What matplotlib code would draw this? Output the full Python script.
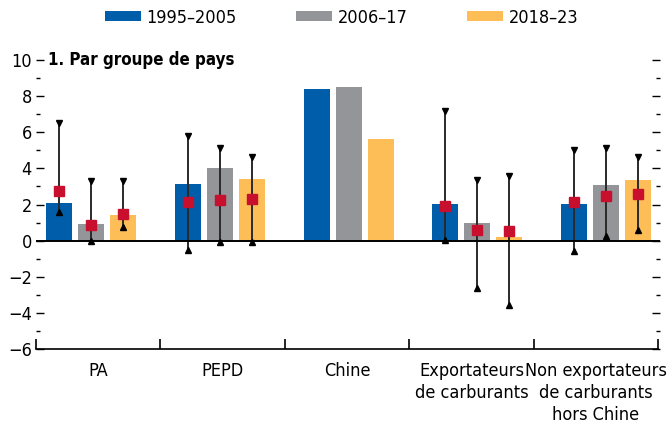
import numpy as np
import matplotlib
matplotlib.use("Agg")
import matplotlib.pyplot as plt
from matplotlib import font_manager
from matplotlib.ticker import MultipleLocator, FixedLocator

# narrow font if we have one, else condensed DejaVu, else Roboto a bit smaller
fonts = font_manager.fontManager.ttflist
names = {f.name for f in fonts}
fs = 14
if 'Liberation Sans Narrow' in names:
  plt.rcParams['font.family'] = ['Liberation Sans Narrow', 'DejaVu Sans']
elif any(f.name == 'DejaVu Sans' and f.stretch == 'condensed' for f in fonts):
  plt.rcParams['font.family'] = ['DejaVu Sans']
  plt.rcParams['font.stretch'] = 'condensed'
  fs = 13
else:
  plt.rcParams['font.family'] = ['Roboto', 'DejaVu Sans']
  fs = 12.5

#============================================================================
# data
#============================================================================

groups = ['PA', 'PEPD', 'Chine', 'Exportateurs\nde carburants',
          'Non exportateurs\nde carburants\nhors Chine']
periods = ['1995–2005', '2006–17', '2018–23']

# bar heights per period
bar_9505 = [2.10, 3.15, 8.40, 2.04, 2.04]
bar_0617 = [0.94, 4.03, 8.50, 0.99, 3.09]
bar_1823 = [1.44, 3.43, 5.64, 0.22, 3.37]

# red squares (median), nan where not shown
med_9505 = [2.72, 2.15, np.nan, 1.93, 2.15]
med_0617 = [0.88, 2.26, np.nan, 0.60, 2.45]
med_1823 = [1.49, 2.32, np.nan, 0.55, 2.60]

# whisker ends
hi_9505 = [6.50, 5.82, np.nan, 7.18, 4.99]
lo_9505 = [1.60, -0.50, np.nan, 0.05, -0.55]
hi_0617 = [3.30, 5.15, np.nan, 3.33, 5.12]
lo_0617 = [0.00, -0.05, np.nan, -2.60, 0.24]
hi_1823 = [3.30, 4.62, np.nan, 3.59, 4.62]
lo_1823 = [0.77, -0.05, np.nan, -3.54, 0.60]

colors = ['#005DAA', '#939598', '#FDBD57']
red = '#C8102E'

#============================================================================
# plot
#============================================================================

fig = plt.figure(figsize=(6.67, 4.26), dpi=100)
ax = fig.add_axes([36/667, 77/426, 624/667, 289/426])

x = np.arange(len(groups))
w = 0.202
off = 0.2485

bars = [bar_9505, bar_0617, bar_1823]
meds = [med_9505, med_0617, med_1823]
his = [hi_9505, hi_0617, hi_1823]
los = [lo_9505, lo_0617, lo_1823]

for k in range(3):
  xs = x + (k - 1) * off
  ax.bar(xs, bars[k], width=w, color=colors[k], label=periods[k], zorder=2)
  ax.vlines(xs, los[k], his[k], color='#2a2a2a', lw=1.4, zorder=3)
  ax.plot(xs, his[k], 'v', color='black', ms=4.5, zorder=4)
  ax.plot(xs, los[k], '^', color='black', ms=4.5, zorder=4)
  ax.plot(xs, meds[k], 's', color=red, ms=7.5, zorder=5)

ax.axhline(0, color='black', lw=1.4, zorder=3)

ax.set_xlim(-0.427, 4.419)
ax.set_ylim(-6, 10)

edges = np.linspace(-0.427, 4.404, 6)
centers = (edges[:-1] + edges[1:]) / 2
ax.xaxis.set_major_locator(FixedLocator(centers))
ax.set_xticklabels(groups, linespacing=1.3)
ax.xaxis.set_minor_locator(FixedLocator(edges))
ax.tick_params(axis='x', which='major', length=0, pad=9, labelsize=fs)
ax.tick_params(axis='x', which='minor', direction='in', length=7, width=1.2)

ax.yaxis.set_major_locator(MultipleLocator(2))
ax.yaxis.set_minor_locator(MultipleLocator(1))
ax.tick_params(axis='y', which='both', direction='in', left=True, right=True,
               labelsize=fs, pad=3, width=1.0)
ax.tick_params(axis='y', which='major', length=6)
ax.tick_params(axis='y', which='minor', length=3)
ax.set_yticklabels([str(int(t)).replace('-', '−') for t in ax.get_yticks()])

for s in ['left', 'right', 'top']:
  ax.spines[s].set_visible(False)
ax.spines['bottom'].set_linewidth(1.2)
ax.spines['bottom'].set_bounds(-0.427, 4.404)

ax.text(-0.33, 10, '1. Par groupe de pays', fontsize=fs - 0.8, fontweight='bold',
        va='center', ha='left')

fig.legend(loc='upper center', bbox_to_anchor=(0.512, 1.005), ncol=3,
           frameon=False, fontsize=fs, handlelength=2.0, handleheight=0.45,
           handletextpad=0.3, columnspacing=3.3, borderaxespad=0.2)

fig.savefig('out.png', dpi=100)
